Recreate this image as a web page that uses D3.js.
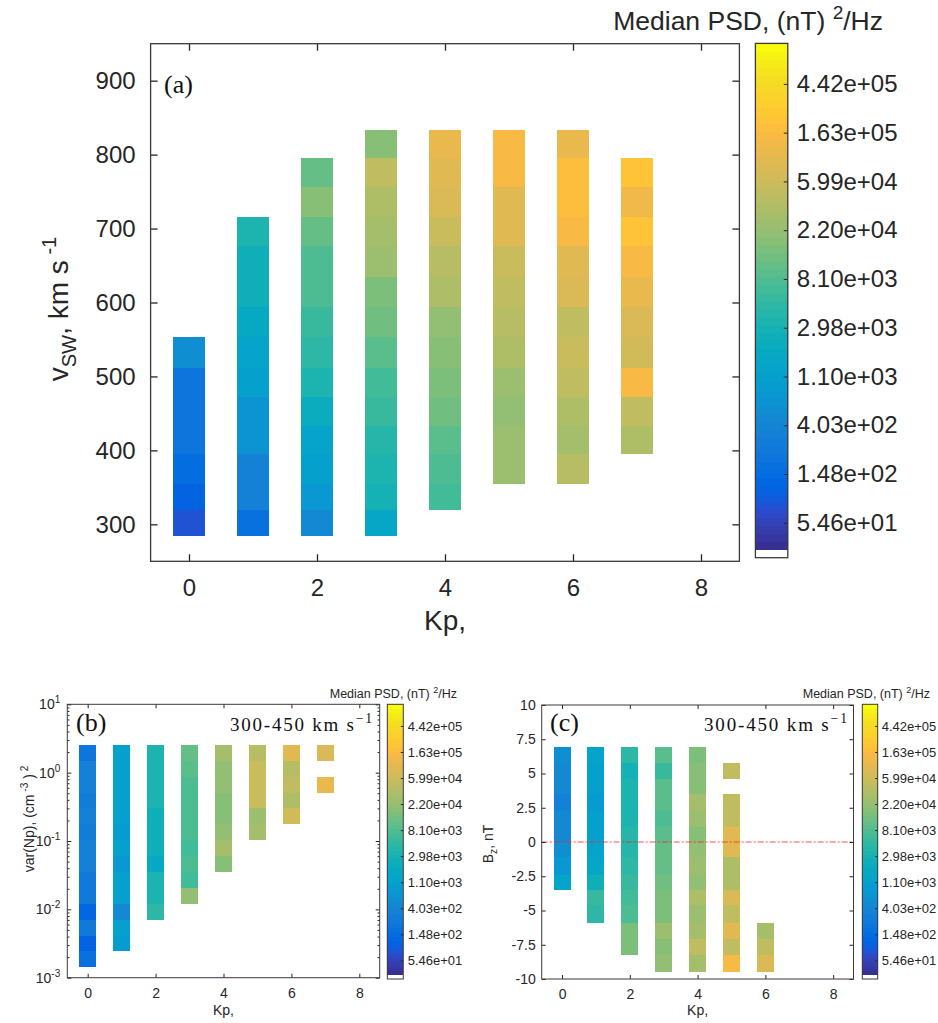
<!DOCTYPE html>
<html>
<head>
<meta charset="utf-8">
<script src="https://cdn.jsdelivr.net/npm/d3@7"></script>
<style>
  body { margin: 0; background: #fff; }
  svg { display: block; }
</style>
</head>
<body>
<svg id="chart" width="938" height="1023"></svg>
<script>
const SANS = '"Liberation Sans", Arial, Helvetica, sans-serif'
const SERIF = '"Liberation Serif", "DejaVu Serif", serif'
const INK = "#262626"

const kp = [0, 1, 2, 3, 4, 5, 6, 7]
const kpTicks = [0, 2, 4, 6, 8]

// colour is ln(median PSD); colorbar ticks sit at e^4 .. e^13
const cRange = [3.285, 13.83]
const cbTicks = [4, 5, 6, 7, 8, 9, 10, 11, 12, 13]
const cbLabels = ["5.46e+01", "1.48e+02", "4.03e+02", "1.10e+03", "2.98e+03",
  "8.10e+03", "2.20e+04", "5.99e+04", "1.63e+05", "4.42e+05"]

// (a) v_sw bins (km/s), first filled bin per Kp, ln PSD bottom -> top
const vswTicks = [300, 400, 500, 600, 700, 800, 900]
const vswEdges = [284, 319, 354, 395, 433, 472, 512, 554, 594, 635, 676, 716, 756, 795, 833]
const vswStart = [0, 0, 0, 0, 1, 2, 2, 3]
const vswPsd = [
  [4.36, 4.69, 5.02, 5.35, 5.35, 5.35, 6.33],
  [5.18, 5.84, 5.84, 6.50, 6.50, 6.99, 7.15, 7.48, 7.81, 7.81, 8.14],
  [6.17, 6.66, 6.99, 7.15, 7.65, 8.14, 8.47, 8.64, 8.97, 8.97, 9.29, 9.79, 9.29],
  [7.32, 7.98, 8.14, 8.31, 8.64, 8.80, 9.13, 9.46, 9.62, 10.12, 10.29, 10.45, 10.78, 9.79],
  [8.80, 8.97, 9.13, 9.46, 9.62, 9.79, 9.96, 10.45, 10.61, 10.94, 11.27, 11.44, 11.60],
  [10.12, 10.12, 9.96, 10.12, 10.45, 10.61, 10.78, 10.94, 11.44, 11.44, 11.93, 11.93],
  [10.61, 10.29, 10.45, 10.78, 10.94, 10.78, 11.27, 11.44, 11.93, 12.10, 12.10, 11.60],
  [10.45, 10.78, 11.93, 11.11, 11.27, 11.60, 11.93, 12.26, 11.77, 12.26]
]

// (b) var(Np) bins, 300-450 km/s
const npTicks = [1e-3, 1e-2, 1e-1, 1, 10]
const npExp = ["-3", "-2", "-1", "0", "1"]
const npEdges = [0.00142, 0.00242, 0.00414, 0.00707, 0.0121, 0.0206, 0.0352, 0.0602,
  0.103, 0.176, 0.300, 0.512, 0.875, 1.49, 2.55]
const npStart = [0, 1, 3, 4, 6, 8, 9, 11]
const npPsd = [
  [5.18, 4.69, 5.51, 4.85, 5.51, 5.51, 5.84, 5.84, 5.67, 5.84, 5.67, 5.84, 5.84, 5.35],
  [6.83, 6.99, 6.17, 6.99, 6.99, 6.66, 6.99, 6.83, 6.99, 6.99, 6.99, 6.99, 6.99],
  [8.47, 8.14, 8.14, 7.48, 7.81, 7.81, 7.81, 8.14, 8.14, 8.14, 8.14],
  [9.96, 8.80, 8.97, 8.80, 8.97, 8.97, 8.97, 8.97, 9.13, 9.29],
  [9.79, 10.29, 9.96, 9.79, 9.79, 9.96, 9.96, 10.29],
  [10.29, 10.12, 10.94, 10.94, 10.94, 10.61],
  [11.11, 10.45, 10.78, 10.61, 11.44],
  [11.60, null, 11.27]
]

// (c) Bz bins (nT), 300-450 km/s
const bzTicks = [-10, -7.5, -5, -2.5, 0, 2.5, 5, 7.5, 10]
const bzLabels = ["-10", "-7.5", "-5", "-2.5", "0", "2.5", "5", "7.5", "10"]
const bzEdges = [-9.49, -8.27, -7.10, -5.89, -4.62, -3.53, -2.38, -1.09, 0, 1.09, 2.24, 3.48, 4.60, 5.74, 6.91]
const bzStart = [5, 3, 1, 0, 0, 0, 0]
const bzPsd = [
  [7.15, 6.66, 6.33, 6.17, 6.17, 5.84, 6.17, 6.17, 6.33],
  [8.47, 8.64, 7.81, 7.32, 7.15, 6.99, 6.99, 6.83, 6.99, 6.99, 7.15],
  [9.62, 9.62, 8.97, 8.80, 8.64, 8.47, 8.31, 8.31, 8.14, 8.14, 8.14, 7.98, 8.47],
  [9.96, 9.79, 10.12, 9.62, 9.62, 9.46, 9.29, 9.29, 9.13, 8.97, 9.13, 9.13, 8.64, 9.13],
  [10.29, 10.78, 10.29, 10.12, 10.45, 9.96, 10.12, 9.96, 9.79, 10.12, 10.29, 9.79, 9.79, 9.62],
  [11.93, 10.78, 11.44, 10.78, 11.27, 10.45, 10.45, 11.44, 11.44, 10.78, 10.78, null, 10.78],
  [11.27, 10.78, 10.29]
]

// matlab parula(64), first entry replaced by white
const parula = ["#352a87","#363093","#3637a0","#353dad","#3243ba","#2c4ac7","#2053d4","#0f5cdd",
  "#0363e1","#0268e1","#046de0","#0871de","#0d75dc","#1079da","#127dd8","#1481d6",
  "#1485d4","#1389d3","#108ed2","#0c93d2","#0998d1","#079ccf","#06a0cd","#06a4ca",
  "#06a7c6","#07a9c2","#0aacbe","#0faeb9","#15b1b4","#1db3af","#25b5a9","#2eb7a4",
  "#38b99e","#42bb98","#4dbc92","#59bd8c","#65be86","#71bf80","#7cbf7b","#87bf77",
  "#92bf73","#9cbf6f","#a5be6b","#aebe67","#b7bd64","#c0bc60","#c8bc5d","#d1bb59",
  "#d9ba56","#e1b952","#e9b94e","#f1b94a","#f8ba44","#fdbe3d","#ffc337","#fec832",
  "#fcce2e","#fad32a","#f7d826","#f5de21","#f5e41d","#f5eb18","#f6f313","#f9fb0e"]
const cmap = ["#ffffff"].concat(parula.slice(1))
const colour = d3.scaleQuantize().domain(cRange).range(cmap)

const svg = d3.select("#chart")
svg.append("rect").attr("width", 938).attr("height", 1023).attr("fill", "#fff")

// text with super/subscripts, parts = [[string, "sup"|"sub"|undefined]]
function rich(t, parts, fs) {
  let off = 0
  parts.forEach(([s, kind]) => {
    const want = kind === "sup" ? -0.42 * fs : kind === "sub" ? 0.3 * fs : 0
    t.append("tspan").attr("dy", want - off).attr("font-size", kind ? fs * 0.72 : fs).text(s)
    off = want
  })
  return t
}

function styleAxis(sel, fs) {
  sel.attr("font-size", fs).attr("font-family", SANS).attr("color", INK)
  sel.select(".domain").remove()
  sel.selectAll("text").attr("fill", INK)
}

const blank = () => ""

function heatPanel(o) {
  const x = d3.scaleLinear().domain([-0.6, 8.6]).range([o.l, o.r])
  const y = o.y
  const [bot, top] = y.range()
  const g = svg.append("g")

  o.psd.forEach((col, i) => col.forEach((v, j) => {
    if (v === null) return
    const b = o.start[i] + j
    g.append("rect")
      .attr("shape-rendering", "crispEdges")
      .attr("x", x(kp[i] - 0.25))
      .attr("width", x(kp[i] + 0.25) - x(kp[i] - 0.25))
      .attr("y", y(o.edges[b + 1]))
      .attr("height", y(o.edges[b]) - y(o.edges[b + 1]))
      .attr("fill", colour(v))
  }))
  if (o.extra) o.extra(g, x, y)

  // inward ticks on all four sides, like a matlab box
  g.append("g").attr("transform", `translate(0,${bot})`)
    .call(d3.axisBottom(x).tickValues(kpTicks).tickSize(-o.tl).tickPadding(o.xpad))
    .call(styleAxis, o.fs)
  g.append("g").attr("transform", `translate(0,${top})`)
    .call(d3.axisTop(x).tickValues(kpTicks).tickSize(-o.tl).tickFormat(blank))
    .call(styleAxis, o.fs)
  g.append("g").attr("transform", `translate(${o.l},0)`)
    .call(d3.axisLeft(y).tickValues(o.yTicks).tickSize(-o.tl).tickPadding(o.ypad).tickFormat(o.yFmt))
    .call(styleAxis, o.fs)
  g.append("g").attr("transform", `translate(${o.r},0)`)
    .call(d3.axisRight(y).tickValues(o.yTicks).tickSize(-o.tl).tickFormat(blank))
    .call(styleAxis, o.fs)
  g.selectAll(".tick line").attr("stroke-width", o.sw)
  g.append("rect")
    .attr("x", o.l).attr("y", top).attr("width", o.r - o.l).attr("height", bot - top)
    .attr("fill", "none").attr("stroke", "#3a3a3a").attr("stroke-width", o.sw)
  return { g, x, y }
}

function colorbar(o) {
  const s = d3.scaleLinear().domain(cRange).range([o.bottom, o.top])
  const step = (cRange[1] - cRange[0]) / cmap.length
  const g = svg.append("g")
  g.selectAll("rect.band").data(d3.range(cmap.length)).join("rect")
    .attr("class", "band")
    .attr("shape-rendering", "crispEdges")
    .attr("x", o.x).attr("width", o.w)
    .attr("y", k => s(cRange[0] + (k + 1) * step))
    .attr("height", k => s(cRange[0] + k * step) - s(cRange[0] + (k + 1) * step) + 0.6)
    .attr("fill", k => cmap[k])
  g.append("g").attr("transform", `translate(${o.x + o.w},0)`)
    .call(d3.axisRight(s).tickValues(cbTicks).tickSize(-o.tl).tickPadding(o.pad)
      .tickFormat((d, i) => cbLabels[i]))
    .call(styleAxis, o.fs)
  g.append("rect")
    .attr("x", o.x).attr("y", o.top).attr("width", o.w).attr("height", o.bottom - o.top)
    .attr("fill", "none").attr("stroke", "#3a3a3a").attr("stroke-width", o.sw)
  rich(g.append("text").attr("x", o.tx).attr("y", o.ty).attr("text-anchor", "end")
    .attr("font-family", SANS).attr("fill", INK),
    [["Median PSD, (nT) "], ["2", "sup"], ["/Hz"]], o.tfs)
}

function label(x, y, parts, fs, rot, anchor) {
  const t = svg.append("text")
    .attr("transform", `translate(${x},${y})` + (rot ? " rotate(-90)" : ""))
    .attr("text-anchor", anchor || "middle")
    .attr("font-family", SANS).attr("fill", INK)
  rich(t, parts, fs)
  return t
}

// ---------- (a) ----------
heatPanel({
  l: 150.6, r: 739.4,
  y: d3.scaleLinear().domain([250, 950]).range([561.3, 43.7]),
  edges: vswEdges, start: vswStart, psd: vswPsd,
  yTicks: vswTicks, yFmt: d3.format("d"),
  fs: 24, tl: 7, xpad: 18, ypad: 15, sw: 1.3
})
colorbar({ x: 755.4, w: 32.4, top: 43.4, bottom: 557.7, tl: 4, pad: 9, fs: 24, sw: 1.3,
  tx: 883, ty: 30, tfs: 26.5 })
label(445, 630, [["Kp,"]], 28)
label(68, 309, [["v"], ["SW", "sub"], [", km s"], [" -1", "sup"]], 28, true)
svg.append("text").attr("x", 164).attr("y", 93).attr("font-family", SERIF)
  .attr("font-size", 26).attr("fill", "#111").text("(a)")

// ---------- (b) ----------
heatPanel({
  l: 67.3, r: 379.7,
  y: d3.scaleLog().domain([1e-3, 10]).range([977.7, 704.3]),
  edges: npEdges, start: npStart, psd: npPsd,
  yTicks: npTicks, yFmt: blank,
  fs: 14, tl: 4, xpad: 10, ypad: 6, sw: 1,
  extra: (g, x, y) => {
    const minor = []
    npTicks.slice(0, -1).forEach(d => d3.range(2, 10).forEach(m => minor.push(d * m)))
    g.append("g").attr("transform", `translate(${x.range()[0]},0)`)
      .call(d3.axisLeft(y).tickValues(minor).tickSize(-2.2).tickFormat(blank)).call(styleAxis, 14)
    g.append("g").attr("transform", `translate(${x.range()[1]},0)`)
      .call(d3.axisRight(y).tickValues(minor).tickSize(-2.2).tickFormat(blank)).call(styleAxis, 14)
    npTicks.forEach((d, i) => {
      rich(g.append("text").attr("x", x.range()[0] - 7).attr("y", y(d) + 5)
        .attr("text-anchor", "end").attr("font-family", SANS).attr("fill", INK),
        [["10"], [npExp[i], "sup"]], 14)
    })
  }
})
colorbar({ x: 387.3, w: 16, top: 704.3, bottom: 979, tl: 2.5, pad: 4.4, fs: 13, sw: 1,
  tx: 457, ty: 698, tfs: 12.5 })
label(223.5, 1015, [["Kp,"]], 14)
label(33.5, 819, [["var(Np), (cm"], [" -3", "sup"], [" )"], [" 2", "sup"]], 14, true)
svg.append("text").attr("x", 76).attr("y", 731).attr("font-family", SERIF)
  .attr("font-size", 26).attr("fill", "#111").text("(b)")
svg.append("text").attr("x", 230).attr("y", 731).attr("font-family", SERIF)
  .attr("fill", "#111").attr("textLength", 142).attr("lengthAdjust", "spacing")
  .call(t => rich(t, [["300-450 km s"], ["\u22121", "sup"]], 19))

// ---------- (c) ----------
heatPanel({
  l: 541.7, r: 853.5,
  y: d3.scaleLinear().domain([-10, 10]).range([979, 705]),
  edges: bzEdges, start: bzStart, psd: bzPsd,
  yTicks: bzTicks, yFmt: (d, i) => bzLabels[i],
  fs: 14, tl: 4, xpad: 10, ypad: 6, sw: 1,
  extra: (g, x, y) => {
    g.append("line")
      .attr("x1", x.range()[0]).attr("x2", x.range()[1])
      .attr("y1", y(0)).attr("y2", y(0))
      .attr("stroke", "#ff2020").attr("stroke-opacity", 0.8).attr("stroke-width", 1.2)
      .attr("stroke-dasharray", "6 2 2 2")
  }
})
colorbar({ x: 862.3, w: 15.4, top: 704.3, bottom: 979, tl: 2.5, pad: 4, fs: 13, sw: 1,
  tx: 930, ty: 698, tfs: 12.5 })
label(697.6, 1015, [["Kp,"]], 14)
label(493, 844, [["B"], ["z", "sub"], [", nT"]], 14, true)
svg.append("text").attr("x", 550).attr("y", 731).attr("font-family", SERIF)
  .attr("font-size", 26).attr("fill", "#111").text("(c)")
svg.append("text").attr("x", 704).attr("y", 731).attr("font-family", SERIF)
  .attr("fill", "#111").attr("textLength", 143).attr("lengthAdjust", "spacing")
  .call(t => rich(t, [["300-450 km s"], ["\u22121", "sup"]], 19))
</script>
</body>
</html>
